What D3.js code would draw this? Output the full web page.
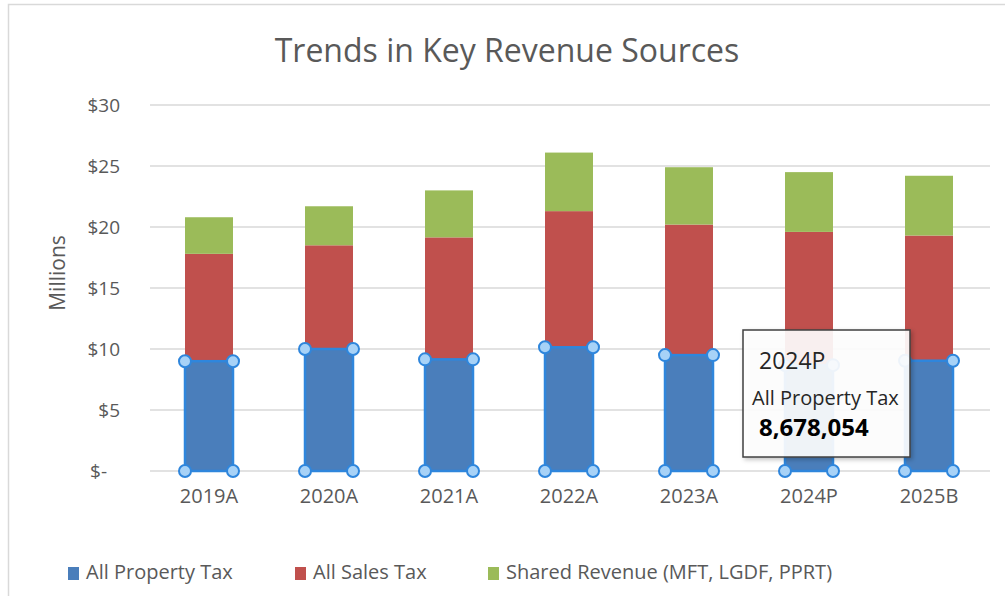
<!DOCTYPE html>
<html>
<head>
<meta charset="utf-8">
<script src="https://cdn.jsdelivr.net/npm/d3@7"></script>
<style>
  html, body { margin: 0; padding: 0; background: #fff; }
  svg { display: block; font-family: "Open Sans", sans-serif; }
</style>
</head>
<body>
<svg id="chart" width="1005" height="596"></svg>
<script>
// Revenue by fiscal year, in millions of dollars
const years = ["2019A", "2020A", "2021A", "2022A", "2023A", "2024P", "2025B"];
const propertyTax = [9.0, 10.0, 9.15, 10.14, 9.5, 8.678054, 9.04];
const salesTax = [8.8, 8.5, 10.0, 11.16, 10.7, 10.92, 10.26];
const sharedRevenue = [3.0, 3.2, 3.85, 4.8, 4.7, 4.9, 4.9];
const seriesNames = ["All Property Tax", "All Sales Tax", "Shared Revenue (MFT, LGDF, PPRT)"];
const yTicks = [0, 5, 10, 15, 20, 25, 30];

const colors = ["#4a7ebb", "#c0504d", "#9bbb59"];
const textGray = "#595959";

const svg = d3.select("#chart");

const defs = svg.append("defs");
const shadow = defs.append("filter").attr("id", "tipShadow")
  .attr("x", "-10%").attr("y", "-10%").attr("width", "130%").attr("height", "130%");
shadow.append("feDropShadow").attr("dx", 2).attr("dy", 2).attr("stdDeviation", 2)
  .attr("flood-color", "#000").attr("flood-opacity", 0.25);

// Chart frame
svg.append("path")
  .attr("d", "M8.5,596 V4.5 H1005")
  .attr("fill", "none").attr("stroke", "#d9d9d9").attr("stroke-width", 1.5);

// Title
svg.append("text")
  .attr("x", 507).attr("y", 62)
  .attr("text-anchor", "middle")
  .attr("font-size", 32)
  .attr("fill", textGray)
  .text("Trends in Key Revenue Sources");

const x = d3.scaleBand().domain(years).range([149, 989]).paddingInner(0.6).paddingOuter(0.3);
const y = d3.scaleLinear().domain([0, 30]).range([471, 105]);

// Gridlines
svg.append("g").selectAll("line").data(yTicks).join("line")
  .attr("x1", 150).attr("x2", 990)
  .attr("y1", d => y(d)).attr("y2", d => y(d))
  .attr("stroke", "#d9d9d9").attr("stroke-width", 1.5);

// Y axis labels
const yAxis = svg.append("g").attr("transform", "translate(128,0)")
  .call(d3.axisLeft(y).tickValues(yTicks).tickSize(0).tickPadding(8)
    .tickFormat(d => d === 0 ? "$-" : "$" + d));
yAxis.select(".domain").remove();
yAxis.selectAll("text")
  .attr("font-family", "Open Sans, sans-serif")
  .attr("font-size", 19).attr("fill", textGray)
  .attr("dx", d => d === 0 ? -13 : 0);

svg.append("text")
  .attr("transform", "translate(65,273) rotate(-90)")
  .attr("text-anchor", "middle")
  .attr("font-size", 21)
  .attr("fill", textGray)
  .text("Millions");

// X axis labels
const xAxis = svg.append("g").attr("transform", "translate(0,471)")
  .call(d3.axisBottom(x).tickSize(0).tickPadding(18));
xAxis.select(".domain").remove();
xAxis.selectAll("text")
  .attr("font-family", "Open Sans, sans-serif")
  .attr("font-size", 20).attr("fill", textGray);

// Stacked bars
const table = years.map((yr, i) => ({
  year: yr,
  property: propertyTax[i],
  sales: salesTax[i],
  shared: sharedRevenue[i]
}));
const keys = ["property", "sales", "shared"];
const stacked = d3.stack().keys(keys)(table);

const layers = svg.append("g").selectAll("g").data(stacked).join("g")
  .attr("fill", (d, i) => colors[i]);
layers.selectAll("rect").data(d => d).join("rect")
  .attr("x", d => x(d.data.year))
  .attr("width", x.bandwidth())
  .attr("y", d => y(d[1]))
  .attr("height", d => y(d[0]) - y(d[1]));

// Selected series outline and handles
const sel = svg.append("g");
sel.selectAll("rect").data(stacked[0]).join("rect")
  .attr("x", d => x(d.data.year))
  .attr("width", x.bandwidth())
  .attr("y", d => y(d[1]))
  .attr("height", d => y(d[0]) - y(d[1]))
  .attr("fill", "none")
  .attr("stroke", "#2f86dc").attr("stroke-width", 2.5);
const corners = [];
stacked[0].forEach(d => {
  const x0 = x(d.data.year), x1 = x0 + x.bandwidth();
  [[x0, y(d[1])], [x1, y(d[1])], [x0, y(d[0])], [x1, y(d[0])]].forEach(c => corners.push(c));
});
sel.selectAll("circle").data(corners).join("circle")
  .attr("cx", d => d[0]).attr("cy", d => d[1]).attr("r", 6)
  .attr("fill", "#a7d2f7").attr("stroke", "#2f86dc").attr("stroke-width", 2);

// Legend
const legendX = [68, 295, 488];
const legend = svg.append("g").selectAll("g").data(seriesNames).join("g")
  .attr("transform", (d, i) => `translate(${legendX[i]},0)`);
legend.append("rect").attr("x", 0).attr("y", 567).attr("width", 11).attr("height", 13)
  .attr("fill", (d, i) => colors[i]);
legend.append("text").attr("x", 18).attr("y", 579)
  .attr("font-size", 20).attr("fill", textGray)
  .text(d => d);

// Data tooltip for the hovered point
const tipIndex = years.indexOf("2024P");
const tip = svg.append("g");
tip.append("rect")
  .attr("x", 743).attr("y", 330).attr("width", 167).attr("height", 127)
  .attr("fill", "rgba(255,255,255,0.9)")
  .attr("stroke", "#404040").attr("stroke-width", 1.5)
  .attr("filter", "url(#tipShadow)");
tip.append("text").attr("x", 759).attr("y", 369)
  .attr("font-size", 23).attr("fill", "#262626")
  .text(years[tipIndex]);
tip.append("text").attr("x", 752).attr("y", 405)
  .attr("font-size", 20).attr("fill", "#262626")
  .text(seriesNames[0]);
tip.append("text").attr("x", 759).attr("y", 436)
  .attr("font-size", 24).attr("font-weight", "bold").attr("fill", "#000")
  .text(d3.format(",")(Math.round(propertyTax[tipIndex] * 1e6)));
</script>
</body>
</html>
